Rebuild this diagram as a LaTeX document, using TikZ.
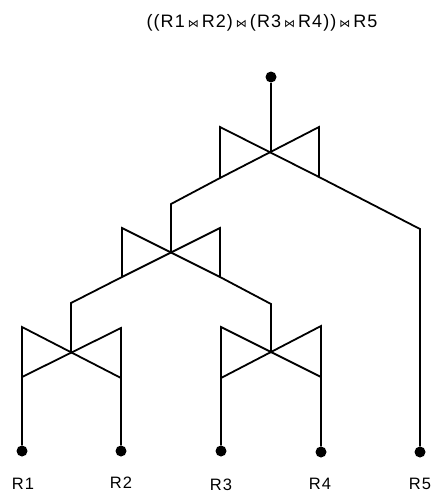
\documentclass[tikz,border=0pt]{standalone}
\usepackage{fontspec}
\setmainfont[LetterSpace=6]{Liberation Sans}
\newfontfamily\joinfont{DejaVu Sans}
\newcommand{\joinop}{{\joinfont\fontsize{11}{11}\selectfont ⋈}}
\usepackage{tikz}
\begin{document}
\begin{tikzpicture}[x=1pt,y=-1pt,
        wire/.style={black,line width=1.8pt,line join=miter},
        dot/.style={circle,fill=black,inner sep=0pt,minimum size=11pt},
        rel/.style={font=\fontsize{16.5}{16.5}\selectfont,inner sep=0pt},
        expr/.style={font=\fontsize{18}{18}\selectfont,inner sep=0pt}]
        \useasboundingbox (0,0) rectangle (431,493);
        \node[expr] (title) at (262,23) {((R1\,\joinop\,R2)\,\joinop\,(R3\,\joinop\,R4))\,\joinop\,R5};
        % leaves and root
        \node[dot] (root) at (271,77) {};
        \node[dot] (d1) at (22,451) {};
        \node[dot] (d2) at (121,451) {};
        \node[dot] (d3) at (221,451) {};
        \node[dot] (d4) at (321,452) {};
        \node[dot] (d5) at (420,452) {};
        \node[rel] (r1) at (23,484) {R1};
        \node[rel] (r2) at (121,483) {R2};
        \node[rel] (r3) at (221,485) {R3};
        \node[rel] (r4) at (320,484) {R4};
        \node[rel] (r5) at (420,484) {R5};
        % join points
        \coordinate (topj) at (271,153);
        \coordinate (midj) at (171,253);
        \coordinate (lowa) at (71,353);
        \coordinate (lowb) at (271,353);
        % top join
        \coordinate (tnw) at (220,127);
        \coordinate (tsw) at (220,178);
        \coordinate (tne) at (319,127);
        \coordinate (tse) at (319,177);
        \coordinate (tl) at (171,204);
        \coordinate (tr) at (420,229);
        % middle join
        \coordinate (mnw) at (122,228);
        \coordinate (msw) at (122,277);
        \coordinate (mne) at (220,228);
        \coordinate (mse) at (220,277);
        \coordinate (ml) at (71,303);
        \coordinate (mr) at (271,304);
        % left lower join
        \coordinate (anw) at (22,327);
        \coordinate (asw) at (22,377);
        \coordinate (ane) at (121,328);
        \coordinate (ase) at (121,378);
        % right lower join
        \coordinate (bnw) at (221,327);
        \coordinate (bsw) at (221,378);
        \coordinate (bne) at (321,326);
        \coordinate (bse) at (321,377);
        \draw[wire] (root)--(topj);
        \draw[wire] (tsw)--(tnw)--(tse)--(tr)--(d5);
        \draw[wire] (tse)--(tne)--(tsw)--(tl)--(midj);
        \draw[wire] (msw)--(mnw)--(mse)--(mr)--(lowb);
        \draw[wire] (mse)--(mne)--(msw)--(ml)--(lowa);
        \draw[wire] (d1)--(anw)--(ase);
        \draw[wire] (d2)--(ane)--(asw);
        \draw[wire] (d3)--(bnw)--(bse);
        \draw[wire] (d4)--(bne)--(bsw);
      \end{tikzpicture}
\end{document}
